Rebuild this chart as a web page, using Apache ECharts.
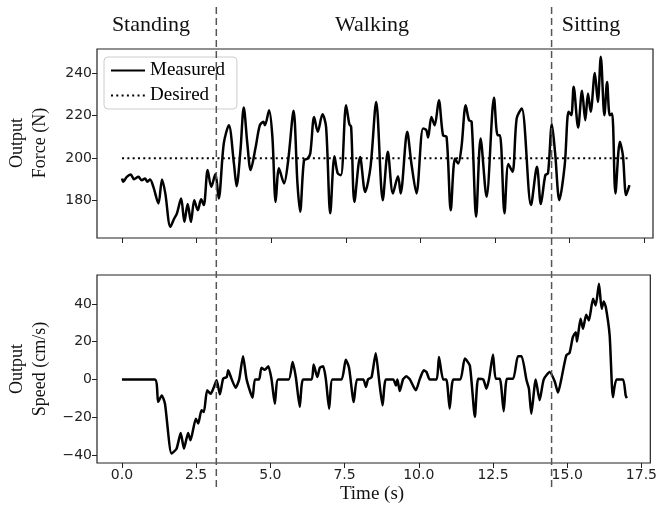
<!DOCTYPE html>
<html>
<head>
<meta charset="utf-8">
<script src="https://cdn.jsdelivr.net/npm/echarts@6/dist/echarts.min.js"></script>
<style>
  html, body { margin: 0; padding: 0; background: #fff; }
  #chart { width: 660px; height: 514px; }
</style>
</head>
<body>
<div id="chart"></div>
<script>
// time ticks shared by both panels
var timeTicks = [0, 2.5, 5, 7.5, 10, 12.5, 15, 17.5];
var forceTicks = [180, 200, 220, 240];
var speedTicks = [-40, -20, 0, 20, 40];

// phase boundaries (s) and labels
var phaseBounds = [3.16, 14.4];
var phaseNames = ['Standing', 'Walking', 'Sitting'];

// desired force
var desiredTime = [0, 17];
var desiredForce = [200, 200];

// measured output force (N)
var forceTime = [0, 0.04, 0.16, 0.29, 0.40, 0.55, 0.66, 0.77, 0.85, 0.94, 1.05, 1.22, 1.34, 1.45, 1.62, 1.75, 1.84, 1.98,
  2.09, 2.20, 2.31, 2.42, 2.54, 2.65, 2.74, 2.87, 2.99, 3.13, 3.24, 3.41, 3.58, 3.75, 3.84, 3.97, 4.08, 4.20, 4.31,
  4.48, 4.62, 4.74, 4.79, 4.93, 5.04, 5.15, 5.26, 5.43, 5.57, 5.75, 5.88, 5.97, 6.10, 6.22, 6.31, 6.44, 6.56, 6.72,
  6.84, 6.98, 7.12, 7.23, 7.34, 7.51, 7.62, 7.68, 7.79, 7.98, 8.15, 8.33, 8.52, 8.74, 8.91, 9.08, 9.25, 9.34, 9.56,
  9.70, 9.87, 10.09, 10.20, 10.26, 10.37, 10.48, 10.62, 10.76, 10.88, 11.02, 11.16, 11.27, 11.38, 11.52, 11.63, 11.72,
  11.87, 12.02, 12.22, 12.47, 12.59, 12.67, 12.82, 12.95, 13.09, 13.23, 13.40, 13.71, 13.91, 14.04, 14.19, 14.28,
  14.41, 14.52, 14.66, 14.84, 14.97, 15.06, 15.14, 15.29, 15.42, 15.53, 15.62, 15.71, 15.85, 15.95, 16.05, 16.17,
  16.26, 16.35, 16.43, 16.54, 16.69, 16.79, 16.90, 17.01];
var forceValue = [190.4, 188.9, 191.2, 192.3, 190.1, 191.2, 189.6, 190.4, 188.9, 190, 186.5, 178.7, 190, 183.4, 167.7, 171.6, 174, 181,
  170, 178.4, 170, 180.2, 175.5, 180.6, 177.9, 194.4, 186.5, 192.5, 181, 206.9, 215.5, 197.5, 186.8, 203.8, 223.9, 206.9, 194.4,
  205.3, 215.5, 217.1, 215.5, 222.6, 210, 179.4, 195.2, 188.1, 199, 222.3, 188.1, 174.8, 199, 199.8, 202.2, 219.4, 212.4, 220.7,
  214.7, 174, 200.9, 192.8, 192, 224.9, 216, 214.7, 179.4, 200.6, 184.1, 195.9, 226.5, 180.2, 203, 183.4, 191.5, 183.4, 212.4,
  197.5, 183.4, 214, 213.2, 209.7, 219.4, 215.5, 227.3, 210.8, 210, 175.5, 199.8, 197.5, 205.3, 224.9, 217.9, 217.1,
  172.4, 209.3, 181.8, 228.5, 210.8, 210.8, 174, 197.2, 193.6, 218.7, 223.4, 177.9, 195.9, 178.4, 192, 192.8,
  216, 202.2, 180.2, 196.7, 221.8, 220.2, 233.6, 214.4, 231.7, 217.9, 230.4, 221.8, 240.1, 226.5, 247.7, 220.2,
  235.9, 220.2, 221, 183.4, 207.7, 201.4, 182.6, 187.3];

// measured output speed (cm/s)
var speedTime = [0, 1.11, 1.22, 1.34, 1.45, 1.67, 1.84, 1.98, 2.09, 2.23, 2.31, 2.49, 2.57, 2.68, 2.76, 2.87, 2.99, 3.10, 3.19,
  3.30, 3.41, 3.53, 3.58, 3.69, 3.83, 3.95, 4.08, 4.20, 4.40, 4.48, 4.62, 4.70, 4.81, 4.93, 5.04, 5.15, 5.26, 5.62, 5.75,
  5.86, 5.99, 6.10, 6.39, 6.46, 6.58, 6.67, 6.78, 6.87, 6.98, 7.09, 7.40, 7.54, 7.65, 7.81, 7.92, 8.13, 8.22, 8.29, 8.41,
  8.55, 8.66, 8.78, 8.89, 9.14, 9.23, 9.28, 9.36, 9.47, 9.58, 9.70, 9.90, 10.03, 10.17, 10.26, 10.37, 10.60, 10.68, 10.82,
  10.93, 11.04, 11.16, 11.40, 11.55, 11.72, 11.89, 12.00, 12.17, 12.28, 12.37, 12.50, 12.59, 12.73, 12.86, 12.97, 13.18,
  13.34, 13.46, 13.63, 13.71, 13.79, 13.94, 14.07, 14.21, 14.41, 14.58, 14.69, 14.80, 14.97, 15.08, 15.19, 15.29, 15.33,
  15.45, 15.53, 15.64, 15.73, 15.87, 15.96, 16.07, 16.16, 16.23, 16.30, 16.43, 16.54, 16.66, 16.88, 16.97, 17.01];
var speedValue = [0, 0, -12, -8.5, -12.9, -39.3, -36.7, -28.4, -36.7, -28.4, -32.3, -20.8, -23.4, -16.4, -17.3, -5.8, -7.6, -4, -0.5,
  -7.9, 0.4, 1.2, 4.8, 0.4, -4.4, 0, 12.2, 0, -9.7, 0, 0, 6.2, 5.1, 6.9, 0, -12.9, 0, 0, 9.2,
  1, -14.5, 0, 0, 7.9, 1.2, 6.2, 6.9, 0, -15.5, 0, 0, 10.4, 6.2, -12, 0, 0, -4, 0, 1.2,
  13.9, 0, -13.8, 0, 0, -3.2, 0, -6.2, 0, 1.6, 0, -5.8, 0, 4.8, 3.9, 0, 0, 11.8, 0,
  0, -15.5, 0, 0, 11, 7.4, -19.8, 0.4, 0, -4.9, 0.4, 13.2, 0.4, 0.4, -16.9, 0.4, 0.4,
  12.3, 12.3, -0.5, -4.9, -18.2, 0, -11.1, 0, 3.9, -1.1, -7, 0, 12.7, 14.1, 22.4, 25, 20.1,
  32.1, 26.8, 34.2, 31.2, 42.7, 39.2, 50.6, 37.4, 41.3, 38.3, 23.3, -9.4, 0, 0, -8.5, -9.9];

function zip(xs, ys) {
  return xs.map(function (x, i) { return [x, ys[i]]; });
}

var serif = 'Liberation Serif';
var sans = 'DejaVu Sans';
var ink = '#222';

function timeAxis(grid, labels) {
  return {
    type: 'value', gridIndex: grid, min: -0.84, max: 17.8,
    axisLine: { show: false, onZero: false },
    splitLine: { show: false },
    axisTick: { show: true, length: 5, customValues: timeTicks, lineStyle: { color: ink, width: 1 } },
    axisLabel: {
      show: labels, customValues: timeTicks, margin: 5,
      fontFamily: sans, fontSize: 14, color: ink,
      formatter: function (v) { return v.toFixed(1); }
    }
  };
}

function valueAxis(grid, min, max, ticks) {
  return {
    type: 'value', gridIndex: grid, min: min, max: max,
    axisLine: { show: false, onZero: false },
    splitLine: { show: false },
    axisTick: { show: true, length: 5, customValues: ticks, lineStyle: { color: ink, width: 1 } },
    axisLabel: {
      customValues: ticks, margin: 5,
      fontFamily: sans, fontSize: 14, color: ink,
      formatter: function (v) { return String(v).replace('-', '\u2212'); }
    }
  };
}

var chart = echarts.init(document.getElementById('chart'));

var phaseSeries = phaseBounds.map(function (t) {
  return {
    type: 'line', xAxisIndex: 2, yAxisIndex: 2, symbol: 'none', silent: true, z: 5,
    data: [[t, 0], [t, 1]],
    lineStyle: { color: '#555', width: 1.5, type: [7, 4] }
  };
});

var option = {
  animation: false,
  backgroundColor: '#fff',
  grid: [
    { left: 97, top: 49, width: 556, height: 189, show: true, borderColor: ink, borderWidth: 1.2, backgroundColor: 'transparent' },
    { left: 97, top: 275, width: 556, height: 188, show: true, borderColor: ink, borderWidth: 1.2, backgroundColor: 'transparent' },
    { left: 97, top: 5, width: 556, height: 482, show: false }
  ],
  xAxis: [
    timeAxis(0, false),
    timeAxis(1, true),
    { type: 'value', gridIndex: 2, min: -0.84, max: 17.8, show: false }
  ],
  yAxis: [
    valueAxis(0, 162.4, 251.4, forceTicks),
    valueAxis(1, -44.3, 55.3, speedTicks),
    { type: 'value', gridIndex: 2, min: 0, max: 1, show: false }
  ],
  legend: {
    data: ['Measured', 'Desired'],
    orient: 'vertical', left: 104, top: 57,
    padding: [4, 12, 4, 6], itemGap: 6, itemWidth: 34, itemHeight: 14,
    itemStyle: { opacity: 0 },
    backgroundColor: 'rgba(255,255,255,0.85)', borderColor: '#ccc', borderWidth: 1, borderRadius: 4,
    textStyle: { fontFamily: serif, fontSize: 19, color: '#000' }
  },
  graphic: [
    { type: 'text', x: 151, y: 25, style: { text: phaseNames[0], font: '22px "Liberation Serif"', fill: '#111', align: 'center', verticalAlign: 'middle' } },
    { type: 'text', x: 372, y: 25, style: { text: phaseNames[1], font: '22px "Liberation Serif"', fill: '#111', align: 'center', verticalAlign: 'middle' } },
    { type: 'text', x: 591, y: 25, style: { text: phaseNames[2], font: '22px "Liberation Serif"', fill: '#111', align: 'center', verticalAlign: 'middle' } },
    { type: 'text', x: 372, y: 494, style: { text: 'Time (s)', font: '19px "Liberation Serif"', fill: '#111', align: 'center', verticalAlign: 'middle' } },
    { type: 'text', x: 29, y: 143, rotation: Math.PI / 2, style: { text: 'Output\nForce (N)', font: '18px "Liberation Serif"', lineHeight: 23, fill: '#111', align: 'center', verticalAlign: 'middle' } },
    { type: 'text', x: 29, y: 369, rotation: Math.PI / 2, style: { text: 'Output\nSpeed (cm/s)', font: '18px "Liberation Serif"', lineHeight: 23, fill: '#111', align: 'center', verticalAlign: 'middle' } }
  ],
  series: [
    {
      name: 'Measured', type: 'line', xAxisIndex: 0, yAxisIndex: 0, symbol: 'none', smooth: 0.3,
      data: zip(forceTime, forceValue),
      lineStyle: { color: '#000', width: 2.5 }, itemStyle: { color: '#000' }
    },
    {
      name: 'Desired', type: 'line', xAxisIndex: 0, yAxisIndex: 0, symbol: 'none',
      data: zip(desiredTime, desiredForce),
      lineStyle: { color: '#000', width: 2, type: [2, 3.3] }, itemStyle: { color: '#000' }
    },
    {
      name: 'Speed', type: 'line', xAxisIndex: 1, yAxisIndex: 1, symbol: 'none', smooth: 0.2,
      data: zip(speedTime, speedValue),
      lineStyle: { color: '#000', width: 2.5 }, itemStyle: { color: '#000' }
    }
  ].concat(phaseSeries)
};

chart.setOption(option);
</script>
</body>
</html>
